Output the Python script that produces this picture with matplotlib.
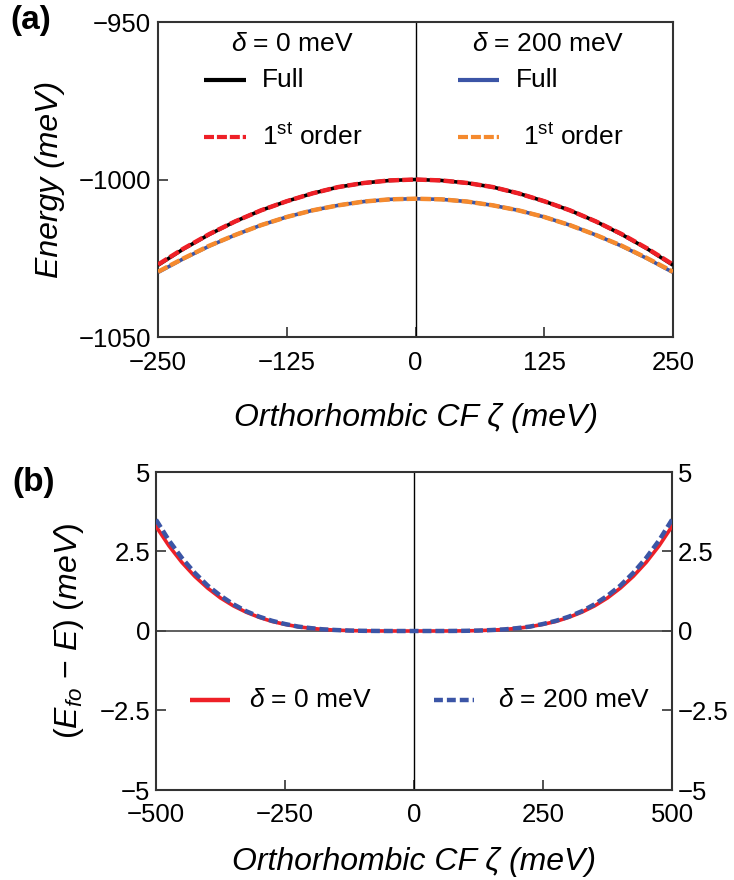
import matplotlib
matplotlib.use("Agg")
import matplotlib.pyplot as plt
from matplotlib.lines import Line2D

plt.rcParams['font.family'] = ['Liberation Sans', 'DejaVu Sans']
plt.rcParams['mathtext.fontset'] = 'custom'
plt.rcParams['mathtext.rm'] = 'Liberation Sans'
plt.rcParams['mathtext.it'] = 'Liberation Sans:italic'
plt.rcParams['axes.unicode_minus'] = True

# ---------------- Panel (a) data ----------------
zeta_a = [-250, -225, -200, -175, -150, -125, -100, -75, -50, -25, 0,
          25, 50, 75, 100, 125, 150, 175, 200, 225, 250]
full_d0 = [-1027.2, -1022.0, -1017.4, -1013.3, -1009.8, -1006.9, -1004.4, -1002.4, -1001.1, -1000.3, -1000.0,
           -1000.3, -1001.1, -1002.4, -1004.4, -1006.9, -1009.8, -1013.3, -1017.4, -1022.0, -1027.2]
fo_d0 = [-1027.0, -1021.9, -1017.3, -1013.3, -1009.8, -1006.9, -1004.4, -1002.4, -1001.1, -1000.3, -1000.0,
         -1000.3, -1001.1, -1002.4, -1004.4, -1006.9, -1009.8, -1013.3, -1017.3, -1021.9, -1027.0]
full_d200 = [-1029.5, -1025.1, -1021.1, -1017.6, -1014.5, -1011.9, -1009.8, -1008.2, -1007.0, -1006.3, -1006.1,
             -1006.3, -1007.0, -1008.2, -1009.8, -1011.9, -1014.5, -1017.6, -1021.1, -1025.1, -1029.5]
fo_d200 = [-1029.3, -1025.0, -1021.0, -1017.6, -1014.5, -1011.9, -1009.8, -1008.2, -1007.0, -1006.3, -1006.1,
           -1006.3, -1007.0, -1008.2, -1009.8, -1011.9, -1014.5, -1017.6, -1021.0, -1025.0, -1029.3]

# ---------------- Panel (b) data ----------------
zeta_b = [-500, -475, -450, -425, -400, -375, -350, -325, -300, -275, -250, -225, -200, -175, -150, -125, -100, -75, -50, -25, 0,
          25, 50, 75, 100, 125, 150, 175, 200, 225, 250, 275, 300, 325, 350, 375, 400, 425, 450, 475, 500]
diff_d0 = [3.29, 2.68, 2.16, 1.72, 1.35, 1.04, 0.79, 0.59, 0.43, 0.30, 0.21, 0.135, 0.084, 0.049, 0.027, 0.013, 0.005, 0.0017, 0.0003, 0.0, 0.0,
           0.0, 0.0003, 0.0017, 0.005, 0.013, 0.027, 0.049, 0.084, 0.135, 0.21, 0.30, 0.43, 0.59, 0.79, 1.04, 1.35, 1.72, 2.16, 2.68, 3.29]
diff_d200 = [3.50, 2.85, 2.30, 1.83, 1.43, 1.11, 0.84, 0.62, 0.45, 0.32, 0.22, 0.14, 0.09, 0.05, 0.03, 0.014, 0.006, 0.002, 0.0, 0.0, 0.0,
             0.0, 0.0, 0.002, 0.006, 0.014, 0.03, 0.05, 0.09, 0.14, 0.22, 0.32, 0.45, 0.62, 0.84, 1.11, 1.43, 1.83, 2.30, 2.85, 3.50]

xticks_a = [-250, -125, 0, 125, 250]
yticks_a = [-1050, -1000, -950]
xticks_b = [-500, -250, 0, 250, 500]
yticks_b = [-5, -2.5, 0, 2.5, 5]
yticklabels_b = ['\u22125', '\u22122.5', '0', '2.5', '5']

RED = '#ee2027'
BLACK = '#000000'
BLUE = '#3b55a6'
ORANGE = '#f58a2e'
SPINE = '#333333'

TICK_FS = 18.5
LAB_FS = 23
LEG_FS = 19

fig = plt.figure(figsize=(7.34, 8.8), dpi=100)
W, H = 734, 880

def ax_rect(l, r, t, b):
    return [l / W, 1 - b / H, (r - l) / W, (b - t) / H]

def mlabels(vals):
    return [str(v).replace('-', '\u2212') for v in vals]

# ================= Panel (a) =================
ax = fig.add_axes(ax_rect(158, 673, 22, 337))
ax.plot(zeta_a, full_d0, color=BLACK, lw=2.6, solid_capstyle='butt', zorder=3)
ax.plot(zeta_a, fo_d0, color=RED, lw=3.2, dashes=(2.4, 0.7), zorder=4)
ax.plot(zeta_a, full_d200, color=BLUE, lw=2.6, solid_capstyle='butt', zorder=3)
ax.plot(zeta_a, fo_d200, color=ORANGE, lw=3.2, dashes=(2.4, 0.7), zorder=4)
ax.axvline(0, color=BLACK, lw=1.0, zorder=2)
ax.set_xlim(-250, 250)
ax.set_ylim(-1050, -950)
ax.set_xticks(xticks_a)
ax.set_xticklabels(mlabels(xticks_a))
ax.set_yticks(yticks_a)
ax.set_yticklabels(mlabels(yticks_a))
ax.tick_params(direction='in', length=7, width=1.2, color=SPINE, labelsize=TICK_FS)
ax.tick_params(axis='x', pad=10)
ax.tick_params(axis='y', pad=5)
for s in ax.spines.values():
    s.set_color(SPINE)
    s.set_linewidth(1.5)
ax.set_xlabel('Orthorhombic CF \u03b6 (meV)', fontsize=LAB_FS, style='italic', labelpad=20)
ax.set_ylabel('Energy (meV)', fontsize=LAB_FS, style='italic', labelpad=10)

def px2ax(a, x, y):
    inv = a.transAxes.inverted()
    return inv.transform((x, H - y))

def leg_item(a, x0, x1, y, xt, text, color, dashes, lw):
    p0 = px2ax(a, x0, y)
    p1 = px2ax(a, x1, y)
    ln = Line2D([p0[0], p1[0]], [p0[1], p1[1]], transform=a.transAxes, color=color, lw=lw,
                solid_capstyle='butt')
    if dashes is not None:
        ln.set_dashes(dashes)
    a.add_line(ln)
    pt = px2ax(a, xt, y)
    a.text(pt[0], pt[1], text, transform=a.transAxes, fontsize=LEG_FS, va='center', ha='left')

pt = px2ax(ax, 292, 44)
ax.text(pt[0], pt[1], r'$\it{\delta}$ = 0 meV', transform=ax.transAxes, fontsize=LEG_FS, ha='center', va='center')
pt = px2ax(ax, 548, 44)
ax.text(pt[0], pt[1], r'$\it{\delta}$ = 200 meV', transform=ax.transAxes, fontsize=LEG_FS, ha='center', va='center')
leg_item(ax, 204, 246, 80, 262, 'Full', BLACK, None, 3.0)
leg_item(ax, 204, 246, 137, 262, r'1$^{\rm st}$ order', RED, (2.4, 0.7), 3.0)
leg_item(ax, 458, 499, 80, 516, 'Full', BLUE, None, 3.0)
leg_item(ax, 458, 499, 137, 523, r'1$^{\rm st}$ order', ORANGE, (2.4, 0.7), 3.0)

fig.text(10 / W, 1 - 20 / H, '(a)', fontsize=24, fontweight='bold', ha='left', va='center')

# ================= Panel (b) =================
bx = fig.add_axes(ax_rect(156, 672, 472, 790))
bx.plot(zeta_b, diff_d0, color=RED, lw=2.6, zorder=3)
bx.plot(zeta_b, diff_d200, color=BLUE, lw=3.2, dashes=(2.0, 0.9), zorder=4)
bx.axvline(0, color=BLACK, lw=1.0, zorder=2)
bx.axhline(0, color='#444444', lw=1.2, zorder=2)
bx.set_xlim(-500, 500)
bx.set_ylim(-5, 5)
bx.set_xticks(xticks_b)
bx.set_xticklabels(mlabels(xticks_b))
bx.set_yticks(yticks_b)
bx.set_yticklabels(yticklabels_b)
bx.tick_params(direction='in', length=7, width=1.2, color=SPINE, labelsize=TICK_FS,
               right=True, labelright=True)
bx.tick_params(axis='x', pad=9)
bx.tick_params(axis='y', pad=4)
for s in bx.spines.values():
    s.set_color(SPINE)
    s.set_linewidth(1.5)
bx.set_xlabel('Orthorhombic CF \u03b6 (meV)', fontsize=LAB_FS, style='italic', labelpad=15)
bx.set_ylabel(r'($E_{fo}$ $-$ $E$) ($\it{meV}$)', fontsize=LAB_FS, labelpad=10)

leg_item(bx, 190, 230, 700, 249, r'$\it{\delta}$ = 0 meV', RED, None, 3.2)
leg_item(bx, 434, 474, 700, 498, r'$\it{\delta}$ = 200 meV', BLUE, (2.0, 0.9), 3.2)

fig.text(12 / W, 1 - 482 / H, '(b)', fontsize=24, fontweight='bold', ha='left', va='center')

fig.savefig('out.png', dpi=100)
